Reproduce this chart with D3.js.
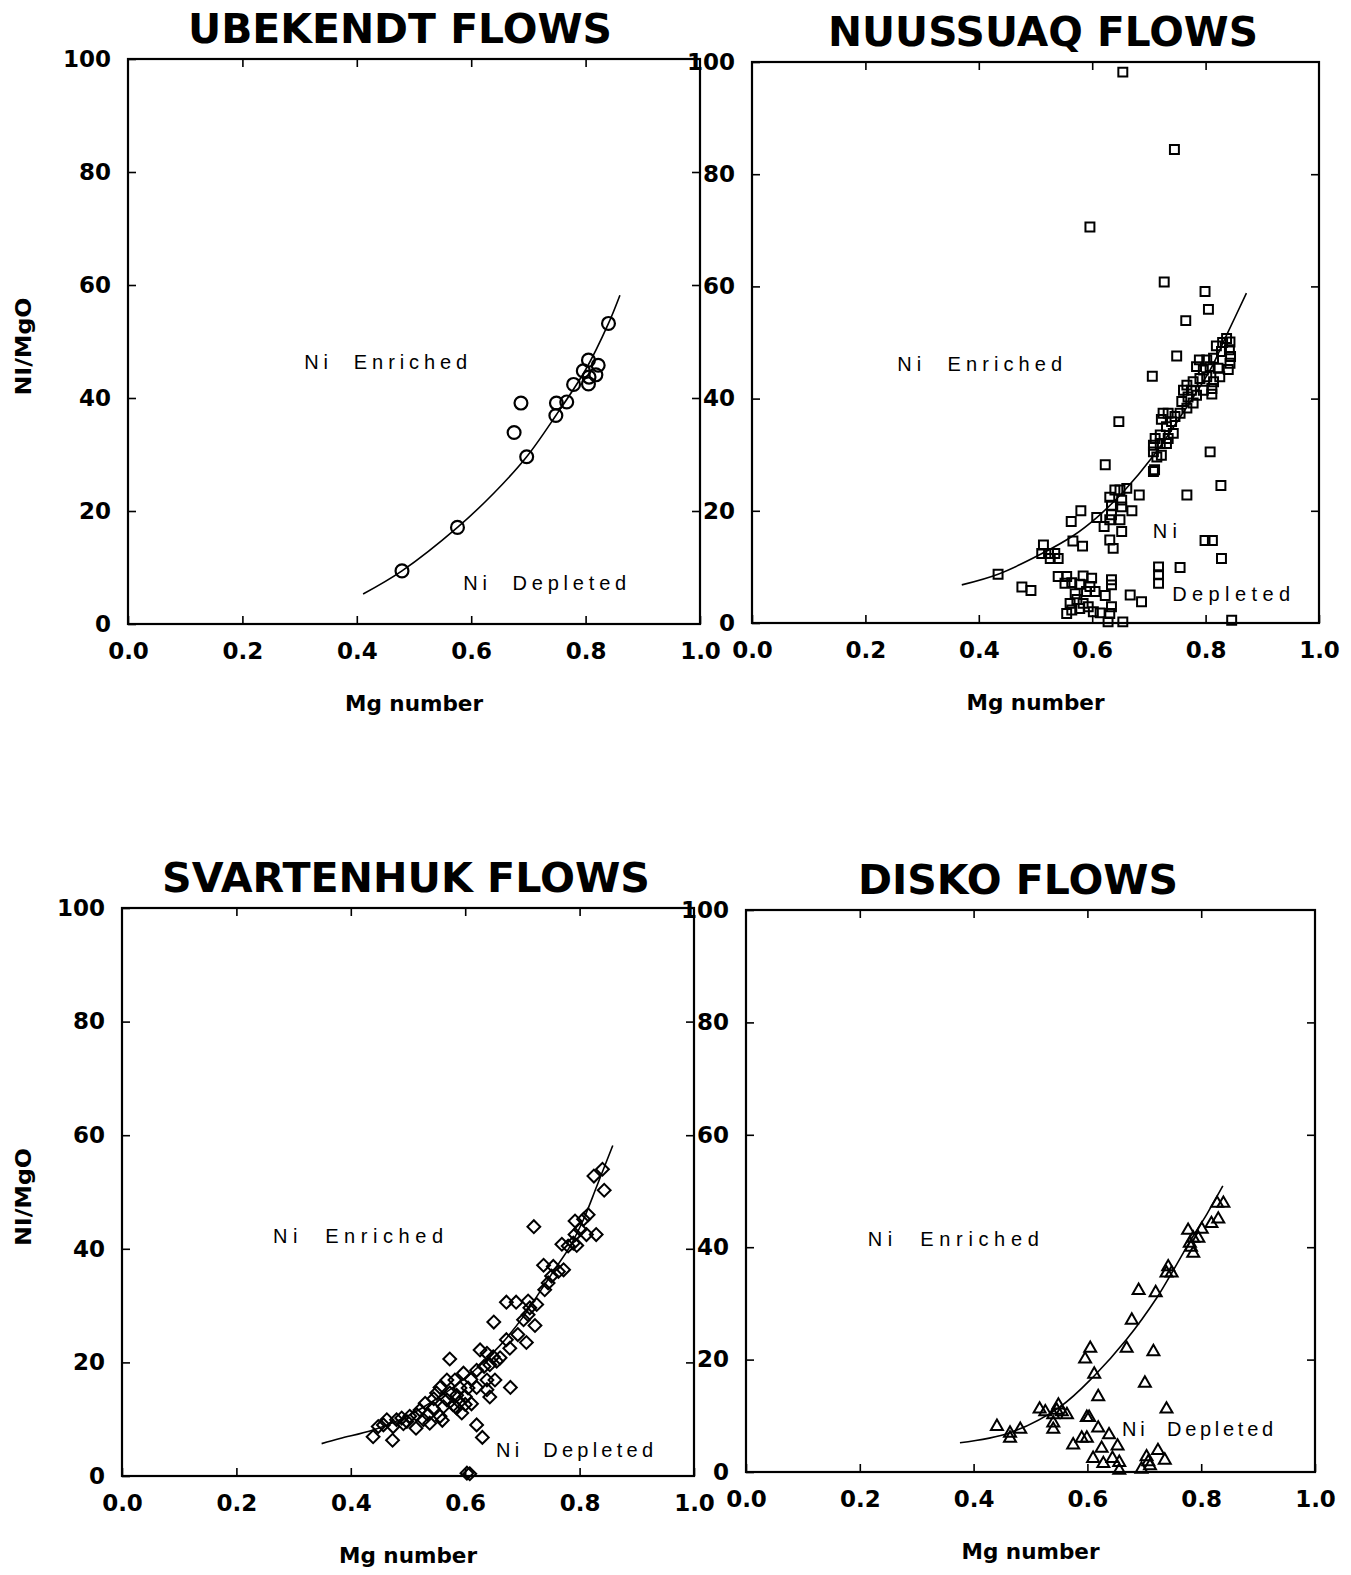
<!DOCTYPE html>
<html lang="en">
  <head>
    <meta charset="UTF-8" />
    <title>Ni/MgO vs Mg number - flows</title>
    <script src="https://d3js.org/d3.v7.min.js"></script>
    <style>
      body { margin: 0; background: #fff; }
    </style>
  </head>

  <body>
    <svg width="1351" height="1575"></svg>

    <script>
      // ---- data ----
      const xTicks = [0, 0.2, 0.4, 0.6, 0.8, 1.0];
      const yTicks = [0, 20, 40, 60, 80, 100];
      const panelTitles = ["UBEKENDT FLOWS", "NUUSSUAQ FLOWS", "SVARTENHUK FLOWS", "DISKO FLOWS"];
      const xLabel = "Mg number";
      const yLabel = "NI/MgO";

      const ubekendtPts = [
        [0.840, 53.2], [0.805, 46.7], [0.822, 45.8], [0.796, 44.8], [0.818, 44.1],
        [0.806, 43.7], [0.805, 42.5], [0.779, 42.4], [0.767, 39.3], [0.749, 39.1],
        [0.748, 36.9], [0.687, 39.1], [0.675, 33.9], [0.697, 29.6], [0.576, 17.1],
        [0.479, 9.4]
      ];
      const ubekendtCurve = [
        [0.411, 5.3], [0.479, 9.4], [0.576, 17.1], [0.639, 23.1], [0.697, 29.6],
        [0.748, 36.9], [0.800, 45.0], [0.840, 53.2], [0.860, 58.2]
      ];

      const nuussuaqPts = [
        [0.654, 98.2], [0.745, 84.4], [0.596, 70.6],
        [0.727, 60.8], [0.799, 59.1], [0.805, 55.9], [0.765, 53.9], [0.749, 47.6],
        [0.706, 44.0], [0.647, 35.9], [0.623, 28.2], [0.808, 30.5], [0.710, 27.3],
        [0.837, 50.7], [0.830, 50.0], [0.819, 49.4], [0.843, 50.1], [0.842, 48.7],
        [0.844, 47.5], [0.843, 46.3], [0.840, 45.2], [0.828, 48.4], [0.814, 47.2],
        [0.802, 46.9], [0.789, 46.9], [0.784, 45.7], [0.796, 45.1], [0.808, 45.7],
        [0.822, 45.4], [0.825, 43.9], [0.814, 43.0], [0.802, 43.9], [0.790, 43.6],
        [0.778, 43.0], [0.767, 42.4], [0.761, 41.5], [0.775, 41.5], [0.784, 40.6],
        [0.796, 41.5], [0.811, 41.8], [0.811, 40.8], [0.769, 40.3], [0.758, 39.5],
        [0.778, 39.2], [0.767, 38.3], [0.755, 37.4], [0.746, 36.8], [0.734, 37.4],
        [0.725, 37.4], [0.722, 36.3], [0.740, 35.9], [0.731, 35.0], [0.743, 33.8],
        [0.734, 32.9], [0.720, 33.5], [0.711, 32.9], [0.708, 31.7], [0.720, 32.0],
        [0.731, 32.0], [0.708, 30.5], [0.714, 29.6], [0.722, 29.9], [0.708, 27.0],
        [0.827, 24.5], [0.767, 22.8], [0.683, 22.8], [0.661, 24.0], [0.649, 23.7],
        [0.640, 23.7], [0.631, 22.4], [0.652, 21.9], [0.634, 21.0], [0.652, 20.7],
        [0.670, 20.0], [0.634, 19.3], [0.649, 18.4], [0.631, 18.4], [0.621, 17.2],
        [0.652, 16.3], [0.631, 14.8], [0.637, 13.3], [0.580, 20.0], [0.563, 18.1],
        [0.608, 18.8], [0.566, 14.6], [0.583, 13.7], [0.514, 13.9], [0.511, 12.4],
        [0.523, 12.4], [0.534, 12.4], [0.540, 11.5], [0.526, 11.5], [0.434, 8.7],
        [0.476, 6.4], [0.492, 5.8], [0.717, 10.0], [0.717, 8.6], [0.717, 7.1],
        [0.755, 9.9], [0.799, 14.7], [0.812, 14.7], [0.828, 11.5], [0.846, 0.5],
        [0.540, 8.3], [0.555, 8.3], [0.552, 7.1], [0.564, 7.2], [0.584, 8.4],
        [0.599, 8.0], [0.578, 6.9], [0.596, 6.5], [0.605, 5.6], [0.623, 4.9],
        [0.634, 7.7], [0.634, 6.8], [0.570, 5.2], [0.590, 5.6], [0.573, 4.2],
        [0.561, 3.5], [0.564, 2.3], [0.555, 1.7], [0.578, 2.6], [0.593, 2.9],
        [0.602, 2.0], [0.614, 1.8], [0.634, 2.9], [0.631, 1.7], [0.628, 0.2],
        [0.654, 0.2], [0.667, 5.0], [0.687, 3.8], [0.584, 3.5]
      ];
      const nuussuaqCurve = [
        [0.370, 6.8], [0.434, 8.7], [0.508, 12.2], [0.567, 15.6], [0.608, 18.8],
        [0.655, 23.4], [0.708, 29.8], [0.761, 37.6], [0.808, 45.1], [0.837, 51.3],
        [0.872, 58.8]
      ];

      const svartenhukPts = [
        [0.840, 54.0], [0.825, 52.8], [0.843, 50.3], [0.815, 46.0], [0.807, 45.2],
        [0.792, 44.9], [0.801, 43.4], [0.812, 42.5], [0.829, 42.5], [0.720, 43.9],
        [0.792, 42.5], [0.789, 41.0], [0.769, 40.8], [0.795, 40.6], [0.780, 40.5],
        [0.737, 37.1], [0.754, 36.9], [0.772, 36.3], [0.763, 36.0], [0.751, 35.2],
        [0.745, 34.0], [0.739, 32.8], [0.672, 30.6], [0.689, 30.6], [0.710, 30.8],
        [0.725, 30.2], [0.713, 29.6], [0.710, 28.4], [0.702, 27.5], [0.650, 27.1],
        [0.722, 26.5], [0.692, 24.9], [0.672, 24.0], [0.707, 23.5], [0.678, 22.5],
        [0.626, 22.2], [0.638, 21.6], [0.649, 21.0], [0.661, 20.8], [0.655, 20.2],
        [0.643, 19.6], [0.633, 19.3], [0.620, 18.6], [0.573, 20.6], [0.597, 18.1],
        [0.582, 16.9], [0.568, 16.9], [0.638, 16.9], [0.652, 16.9], [0.679, 15.6],
        [0.620, 15.6], [0.605, 15.5], [0.591, 15.5], [0.556, 15.6], [0.550, 14.6],
        [0.573, 14.6], [0.600, 14.0], [0.638, 15.2], [0.643, 13.9], [0.611, 12.7],
        [0.594, 11.1], [0.579, 12.5], [0.562, 12.2], [0.544, 11.9], [0.530, 12.8],
        [0.521, 11.6], [0.535, 10.8], [0.556, 10.5], [0.515, 10.8], [0.503, 10.5],
        [0.498, 9.6], [0.489, 10.2], [0.480, 9.9], [0.474, 8.7], [0.463, 9.9],
        [0.457, 9.0], [0.448, 8.7], [0.439, 6.9], [0.473, 6.3], [0.514, 8.4],
        [0.538, 9.3], [0.620, 9.0], [0.630, 6.8], [0.603, 0.5], [0.608, 0.4],
        [0.585, 14.2], [0.590, 13.0], [0.568, 13.4], [0.545, 13.6], [0.610, 17.0],
        [0.585, 12.0], [0.600, 12.6], [0.527, 9.9], [0.492, 9.2], [0.560, 9.8]
      ];
      const svartenhukCurve = [
        [0.349, 5.7], [0.381, 6.6], [0.439, 8.1], [0.498, 10.5], [0.556, 14.0],
        [0.614, 18.4], [0.661, 23.0], [0.702, 28.1], [0.731, 32.5], [0.760, 36.9],
        [0.783, 40.4], [0.807, 45.2], [0.830, 51.0], [0.858, 58.2]
      ];

      const diskoPts = [
        [0.839, 47.8], [0.828, 47.8], [0.830, 45.0], [0.818, 44.2], [0.801, 43.2],
        [0.777, 43.0], [0.795, 41.6], [0.786, 41.6], [0.780, 40.7], [0.782, 40.0],
        [0.786, 38.9], [0.742, 36.5], [0.739, 35.4], [0.748, 35.4], [0.690, 32.3],
        [0.720, 31.9], [0.678, 27.0], [0.669, 22.0], [0.716, 21.4], [0.605, 22.0],
        [0.596, 20.1], [0.612, 17.4], [0.701, 15.8], [0.619, 13.4], [0.739, 11.2],
        [0.549, 11.9], [0.555, 10.7], [0.546, 11.0], [0.540, 10.2], [0.564, 10.2],
        [0.516, 11.2], [0.526, 10.7], [0.540, 8.7], [0.540, 7.6], [0.441, 8.1],
        [0.464, 6.9], [0.464, 6.0], [0.482, 7.6], [0.599, 9.7], [0.603, 9.7],
        [0.619, 7.8], [0.638, 6.6], [0.575, 4.8], [0.590, 6.0], [0.599, 6.0],
        [0.625, 4.2], [0.653, 4.6], [0.610, 2.4], [0.628, 1.5], [0.644, 2.4],
        [0.656, 1.7], [0.656, 0.3], [0.695, 0.5], [0.704, 2.7], [0.707, 1.8],
        [0.710, 1.1], [0.724, 3.8], [0.736, 2.1]
      ];
      const diskoCurve = [
        [0.376, 5.2], [0.464, 7.0], [0.552, 11.6], [0.611, 17.0], [0.669, 23.6],
        [0.722, 31.0], [0.751, 35.9], [0.780, 41.0], [0.810, 45.9], [0.838, 50.9]
      ];

      // ---- layout (pixels) ----
      const panels = [
        { left: 128, right: 700, top: 59, bottom: 624, title: panelTitles[0], pts: ubekendtPts, curve: ubekendtCurve,
          marker: "circle", yName: true, titleX: 400, titleW: 424,
          notes: [{ t: "Ni  Enriched", x: 0.308, y: 45.1, w: 163 }, { t: "Ni  Depleted", x: 0.586, y: 6.0, w: 163 }] },
        { left: 752, right: 1319, top: 62, bottom: 623, title: panelTitles[1], pts: nuussuaqPts, curve: nuussuaqCurve,
          marker: "square", yName: false, titleX: 1043, titleW: 430,
          notes: [{ t: "Ni  Enriched", x: 0.256, y: 44.9, w: 165 }, { t: "Ni", x: 0.707, y: 15.2, w: 24 },
                  { t: "Depleted", x: 0.741, y: 3.9, w: 118 }] },
        { left: 122, right: 694, top: 908, bottom: 1476, title: panelTitles[2], pts: svartenhukPts, curve: svartenhukCurve,
          marker: "diamond", yName: true, titleX: 406, titleW: 488,
          notes: [{ t: "Ni  Enriched", x: 0.264, y: 41.1, w: 170 }, { t: "Ni  Depleted", x: 0.654, y: 3.4, w: 157 }] },
        { left: 746, right: 1315, top: 910, bottom: 1472, title: panelTitles[3], pts: diskoPts, curve: diskoCurve,
          marker: "triangle", yName: false, titleX: 1018, titleW: 320,
          notes: [{ t: "Ni  Enriched", x: 0.214, y: 40.2, w: 171 }, { t: "Ni  Depleted", x: 0.661, y: 6.4, w: 151 }] }
      ];

      const svg = d3.select("svg");
      svg.append("rect").attr("width", 1351).attr("height", 1575).attr("fill", "#fff");

      const boldFont = "'DejaVu Sans', Verdana, sans-serif";
      const noteFont = "Arial, 'Liberation Sans', sans-serif";

      const symbols = {
        circle: d3.symbol().type(d3.symbolCircle).size(130),
        square: d3.symbol().type(d3.symbolSquare).size(80),
        diamond: d3.symbol().type(d3.symbolSquare).size(82),
        triangle: d3.symbol().type(d3.symbolTriangle).size(62)
      };

      function styleAxis(sel, showLabels) {
        sel.select(".domain").remove();
        sel.selectAll(".tick line").attr("stroke", "#000").attr("stroke-width", 1.6);
        sel.selectAll(".tick text")
          .attr("fill", "#000")
          .attr("font-family", boldFont)
          .attr("font-weight", "bold")
          .attr("font-size", 23);
        if (!showLabels) sel.selectAll(".tick text").remove();
      }

      panels.forEach(function (p) {
        const x = d3.scaleLinear().domain([0, 1]).range([p.left, p.right]);
        const y = d3.scaleLinear().domain([0, 100]).range([p.bottom, p.top]);
        const g = svg.append("g");

        // title
        g.append("text")
          .attr("x", p.titleX)
          .attr("y", p.top - 16)
          .attr("text-anchor", "middle")
          .attr("font-family", boldFont)
          .attr("font-weight", "bold")
          .attr("font-size", 41)
          .attr("textLength", p.titleW)
          .attr("lengthAdjust", "spacingAndGlyphs")
          .text(p.title);

        // axes with inward ticks
        g.append("g").attr("transform", `translate(0,${p.bottom})`)
          .call(d3.axisBottom(x).tickValues(xTicks).tickFormat(d3.format(".1f"))
            .tickSizeInner(-8).tickSizeOuter(0).tickPadding(19))
          .call(styleAxis, true);
        g.append("g").attr("transform", `translate(0,${p.top})`)
          .call(d3.axisTop(x).tickValues(xTicks.slice(1, -1)).tickSizeInner(-8).tickSizeOuter(0))
          .call(styleAxis, false);
        g.append("g").attr("transform", `translate(${p.left},0)`)
          .call(d3.axisLeft(y).tickValues(yTicks).tickFormat(d3.format("d"))
            .tickSizeInner(-8).tickSizeOuter(0).tickPadding(17))
          .call(styleAxis, true);
        g.append("g").attr("transform", `translate(${p.right},0)`)
          .call(d3.axisRight(y).tickValues(yTicks.slice(1, -1)).tickSizeInner(-8).tickSizeOuter(0))
          .call(styleAxis, false);

        // frame
        g.append("rect")
          .attr("x", p.left).attr("y", p.top)
          .attr("width", p.right - p.left).attr("height", p.bottom - p.top)
          .attr("fill", "none").attr("stroke", "#000").attr("stroke-width", 2.2);

        // axis names
        g.append("text")
          .attr("x", (p.left + p.right) / 2)
          .attr("y", p.bottom + 87)
          .attr("text-anchor", "middle")
          .attr("font-family", boldFont)
          .attr("font-weight", "bold")
          .attr("font-size", 22)
          .attr("textLength", 138)
          .attr("lengthAdjust", "spacingAndGlyphs")
          .text(xLabel);
        if (p.yName) {
          const cy = (p.top + p.bottom) / 2 + 5;
          g.append("text")
            .attr("transform", `translate(31,${cy}) rotate(-90)`)
            .attr("text-anchor", "middle")
            .attr("font-family", boldFont)
            .attr("font-weight", "bold")
            .attr("font-size", 22)
            .attr("textLength", 98)
            .attr("lengthAdjust", "spacingAndGlyphs")
            .text(yLabel);
        }

        // model curve
        g.append("path")
          .datum(p.curve)
          .attr("d", d3.line().x(d => x(d[0])).y(d => y(d[1])).curve(d3.curveCatmullRom))
          .attr("fill", "none")
          .attr("stroke", "#000")
          .attr("stroke-width", 1.6);

        // samples
        g.append("g").selectAll("path")
          .data(p.pts)
          .enter()
          .append("path")
          .attr("d", symbols[p.marker])
          .attr("transform", d => `translate(${x(d[0])},${y(d[1])})` + (p.marker === "diamond" ? " rotate(45)" : ""))
          .attr("fill", "none")
          .attr("stroke", "#000")
          .attr("stroke-width", p.marker === "circle" ? 2.2 : 2);

        // region notes
        g.selectAll("text.note")
          .data(p.notes)
          .enter()
          .append("text")
          .attr("class", "note")
          .attr("x", d => x(d.x))
          .attr("y", d => y(d.y))
          .attr("font-family", noteFont)
          .attr("font-size", 20)
          .attr("textLength", d => d.w)
          .attr("lengthAdjust", "spacing")
          .attr("xml:space", "preserve")
          .text(d => d.t);
      });
    </script>
  </body>
</html>
